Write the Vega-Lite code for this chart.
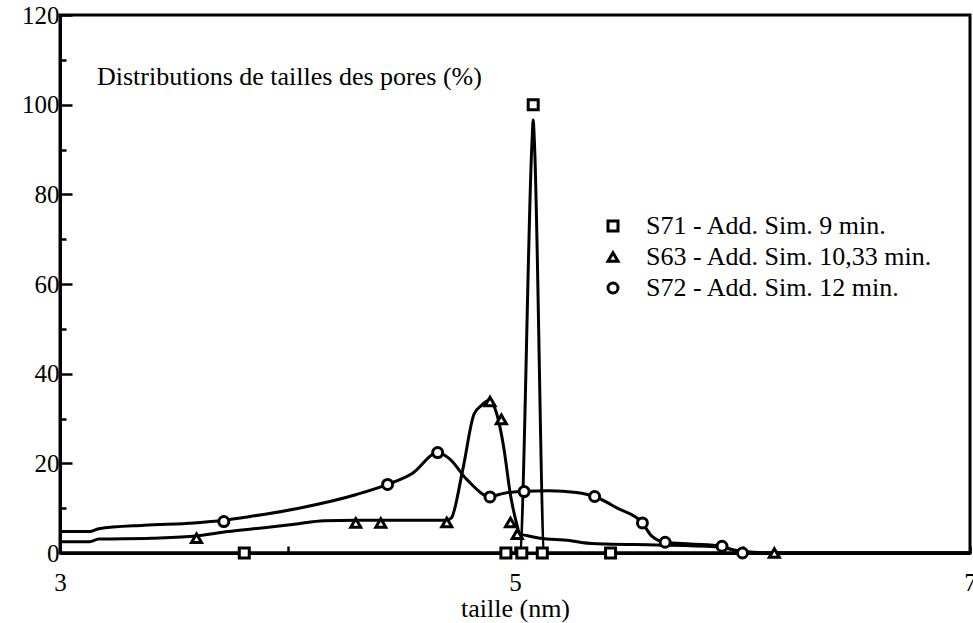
{
  "$schema": "https://vega.github.io/schema/vega-lite/v6.json",
  "width": 910,
  "height": 538,
  "autosize": {"type": "none"},
  "padding": {"left": 60, "top": 15, "right": 3, "bottom": 70},
  "background": "white",
  "config": {
    "font": "Liberation Serif",
    "view": {"stroke": "black", "strokeWidth": 3},
    "axis": {"grid": false}
  },
  "title": {
    "text": "Distributions de tailles des pores (%)",
    "anchor": "start",
    "frame": "group",
    "orient": "top",
    "offset": 0,
    "dx": 37,
    "dy": 87,
    "baseline": "top",
    "fontSize": 26,
    "fontWeight": "normal",
    "font": "Liberation Serif",
    "color": "black"
  },
  "datasets": {
    "points": [
      {"serie": "S71 - Add. Sim. 9 min.", "taille": 3.81, "pct": 0},
      {"serie": "S71 - Add. Sim. 9 min.", "taille": 4.96, "pct": 0},
      {"serie": "S71 - Add. Sim. 9 min.", "taille": 5.03, "pct": 0},
      {"serie": "S71 - Add. Sim. 9 min.", "taille": 5.08, "pct": 100},
      {"serie": "S71 - Add. Sim. 9 min.", "taille": 5.12, "pct": 0},
      {"serie": "S71 - Add. Sim. 9 min.", "taille": 5.42, "pct": 0},
      {"serie": "S63 - Add. Sim. 10,33 min.", "taille": 3.60, "pct": 3.3},
      {"serie": "S63 - Add. Sim. 10,33 min.", "taille": 4.30, "pct": 6.7},
      {"serie": "S63 - Add. Sim. 10,33 min.", "taille": 4.41, "pct": 6.7},
      {"serie": "S63 - Add. Sim. 10,33 min.", "taille": 4.70, "pct": 6.8},
      {"serie": "S63 - Add. Sim. 10,33 min.", "taille": 4.89, "pct": 33.8},
      {"serie": "S63 - Add. Sim. 10,33 min.", "taille": 4.94, "pct": 29.8},
      {"serie": "S63 - Add. Sim. 10,33 min.", "taille": 4.98, "pct": 6.8},
      {"serie": "S63 - Add. Sim. 10,33 min.", "taille": 5.01, "pct": 4.2},
      {"serie": "S63 - Add. Sim. 10,33 min.", "taille": 6.14, "pct": 0},
      {"serie": "S72 - Add. Sim. 12 min.", "taille": 3.72, "pct": 7.0},
      {"serie": "S72 - Add. Sim. 12 min.", "taille": 4.44, "pct": 15.3},
      {"serie": "S72 - Add. Sim. 12 min.", "taille": 4.66, "pct": 22.4},
      {"serie": "S72 - Add. Sim. 12 min.", "taille": 4.89, "pct": 12.5},
      {"serie": "S72 - Add. Sim. 12 min.", "taille": 5.04, "pct": 13.7},
      {"serie": "S72 - Add. Sim. 12 min.", "taille": 5.35, "pct": 12.6},
      {"serie": "S72 - Add. Sim. 12 min.", "taille": 5.56, "pct": 6.7},
      {"serie": "S72 - Add. Sim. 12 min.", "taille": 5.66, "pct": 2.4},
      {"serie": "S72 - Add. Sim. 12 min.", "taille": 5.91, "pct": 1.5},
      {"serie": "S72 - Add. Sim. 12 min.", "taille": 6.00, "pct": 0}
    ],
    "curves": [
      {"serie": "S71", "taille": 3.0, "pct": 0},
      {"serie": "S71", "taille": 5.02, "pct": 0},
      {"serie": "S71", "taille": 5.075, "pct": 92},
      {"serie": "S71", "taille": 5.08, "pct": 96.6},
      {"serie": "S71", "taille": 5.085, "pct": 92},
      {"serie": "S71", "taille": 5.13, "pct": 0},
      {"serie": "S71", "taille": 7.0, "pct": 0},
      {"serie": "S63", "taille": 3.0, "pct": 2.5},
      {"serie": "S63", "taille": 3.13, "pct": 2.5},
      {"serie": "S63", "taille": 3.17, "pct": 3.1},
      {"serie": "S63", "taille": 3.40, "pct": 3.3},
      {"serie": "S63", "taille": 3.60, "pct": 3.8},
      {"serie": "S63", "taille": 3.74, "pct": 4.8},
      {"serie": "S63", "taille": 3.85, "pct": 5.4},
      {"serie": "S63", "taille": 4.03, "pct": 6.4},
      {"serie": "S63", "taille": 4.16, "pct": 7.2},
      {"serie": "S63", "taille": 4.30, "pct": 7.3},
      {"serie": "S63", "taille": 4.70, "pct": 7.3},
      {"serie": "S63", "taille": 4.72, "pct": 7.8},
      {"serie": "S63", "taille": 4.77, "pct": 18.5},
      {"serie": "S63", "taille": 4.82, "pct": 31},
      {"serie": "S63", "taille": 4.85, "pct": 32.8},
      {"serie": "S63", "taille": 4.885, "pct": 34},
      {"serie": "S63", "taille": 4.92, "pct": 31},
      {"serie": "S63", "taille": 4.95, "pct": 23.7},
      {"serie": "S63", "taille": 4.98, "pct": 13},
      {"serie": "S63", "taille": 5.01, "pct": 6.0},
      {"serie": "S63", "taille": 5.02, "pct": 4.3},
      {"serie": "S63", "taille": 5.05, "pct": 3.9},
      {"serie": "S63", "taille": 5.11, "pct": 3.3},
      {"serie": "S63", "taille": 5.24, "pct": 2.8},
      {"serie": "S63", "taille": 5.30, "pct": 2.3},
      {"serie": "S63", "taille": 5.40, "pct": 2.0},
      {"serie": "S63", "taille": 5.62, "pct": 1.8},
      {"serie": "S63", "taille": 5.88, "pct": 1.4},
      {"serie": "S63", "taille": 6.0, "pct": 0.4},
      {"serie": "S63", "taille": 6.14, "pct": 0},
      {"serie": "S63", "taille": 7.0, "pct": 0},
      {"serie": "S72", "taille": 3.0, "pct": 4.8},
      {"serie": "S72", "taille": 3.13, "pct": 4.8},
      {"serie": "S72", "taille": 3.17, "pct": 5.4},
      {"serie": "S72", "taille": 3.37, "pct": 6.2},
      {"serie": "S72", "taille": 3.59, "pct": 6.7},
      {"serie": "S72", "taille": 3.72, "pct": 7.3},
      {"serie": "S72", "taille": 3.83, "pct": 8.1},
      {"serie": "S72", "taille": 4.05, "pct": 10},
      {"serie": "S72", "taille": 4.30, "pct": 13},
      {"serie": "S72", "taille": 4.44, "pct": 15.3},
      {"serie": "S72", "taille": 4.55, "pct": 17.8},
      {"serie": "S72", "taille": 4.66, "pct": 22.4},
      {"serie": "S72", "taille": 4.71, "pct": 21.1},
      {"serie": "S72", "taille": 4.79, "pct": 16.3},
      {"serie": "S72", "taille": 4.89, "pct": 12.6},
      {"serie": "S72", "taille": 4.95, "pct": 13.3},
      {"serie": "S72", "taille": 5.04, "pct": 13.8},
      {"serie": "S72", "taille": 5.15, "pct": 13.9},
      {"serie": "S72", "taille": 5.27, "pct": 13.5},
      {"serie": "S72", "taille": 5.35, "pct": 12.6},
      {"serie": "S72", "taille": 5.45, "pct": 10},
      {"serie": "S72", "taille": 5.56, "pct": 6.7},
      {"serie": "S72", "taille": 5.60, "pct": 3.8},
      {"serie": "S72", "taille": 5.66, "pct": 2.4},
      {"serie": "S72", "taille": 5.77, "pct": 2.0},
      {"serie": "S72", "taille": 5.91, "pct": 1.5},
      {"serie": "S72", "taille": 5.96, "pct": 0.6},
      {"serie": "S72", "taille": 6.0, "pct": 0},
      {"serie": "S72", "taille": 7.0, "pct": 0}
    ]
  },
  "encoding": {
    "x": {
      "field": "taille",
      "type": "quantitative",
      "scale": {"domain": [3, 7], "nice": false, "zero": false},
      "axis": {
        "title": "taille (nm)",
        "values": [3, 4, 5, 6, 7],
        "labelExpr": "datum.value % 2 == 1 ? datum.label : ''",
        "tickSize": -7,
        "tickWidth": 2.5,
        "tickColor": "black",
        "domainColor": "black",
        "domainWidth": 3,
        "labelFont": "Liberation Serif",
        "labelFontSize": 25,
        "labelColor": "black",
        "labelPadding": 24,
        "labelFlush": false,
        "titleFont": "Liberation Serif",
        "titleFontSize": 26,
        "titleFontWeight": "normal",
        "titleColor": "black",
        "titlePadding": 0
      }
    },
    "y": {
      "field": "pct",
      "type": "quantitative",
      "scale": {"domain": [0, 120], "nice": false},
      "axis": {
        "title": null,
        "values": [0, 10, 20, 30, 40, 50, 60, 70, 80, 90, 100, 110, 120],
        "labelExpr": "datum.value % 20 == 0 ? datum.label : ''",
        "tickSize": {"condition": {"test": "datum.value % 20 == 0", "value": -12}, "value": -6},
        "tickWidth": 2.5,
        "tickColor": "black",
        "domainColor": "black",
        "domainWidth": 3,
        "labelFont": "Liberation Serif",
        "labelFontSize": 25,
        "labelColor": "black",
        "labelPadding": 13,
        "labelFlush": false
      }
    }
  },
  "layer": [
    {
      "data": {"name": "curves"},
      "mark": {"type": "line", "interpolate": "monotone", "color": "black", "strokeWidth": 3, "clip": true},
      "encoding": {"detail": {"field": "serie"}}
    },
    {
      "data": {"name": "points"},
      "mark": {"type": "point", "filled": false, "color": "black", "fill": "white", "strokeWidth": 3, "size": 100, "opacity": 1},
      "encoding": {
        "shape": {
          "field": "serie",
          "type": "nominal",
          "scale": {
            "domain": ["S71 - Add. Sim. 9 min.", "S63 - Add. Sim. 10,33 min.", "S72 - Add. Sim. 12 min."],
            "range": ["square", "triangle-up", "circle"]
          },
          "legend": {
            "title": null,
            "orient": "none",
            "legendX": 540,
            "legendY": 198,
            "labelFont": "Liberation Serif",
            "labelFontSize": 26,
            "labelColor": "black",
            "labelLimit": 0,
            "labelOffset": 20,
            "rowPadding": 5,
            "symbolStrokeWidth": 3
          }
        }
      }
    }
  ]
}
